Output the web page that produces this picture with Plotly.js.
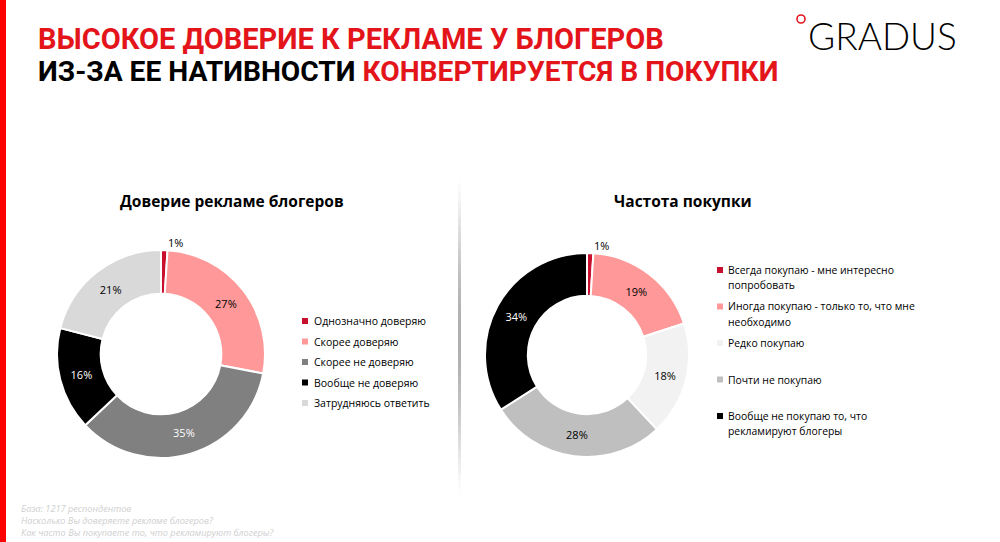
<!DOCTYPE html>
<html><head><meta charset="utf-8">
<script src="https://cdn.plot.ly/plotly-3.0.1.min.js"></script>
<style>body{margin:0;background:#fff}#c{width:1000px;height:542px}</style>
</head><body><div id="c"></div>
<script>
// ---- data ----
const trustLabels = ['Однозначно доверяю','Скорее доверяю','Скорее не доверяю','Вообще не доверяю','Затрудняюсь ответить'];
const trustValues = [1, 27, 35, 16, 21];
const trustColors = ['#c8102e','#ff9999','#808080','#000000','#d9d9d9'];
const trustTextColors = ['#000','#000','#fff','#fff','#000'];

const buyLabels = ['Всегда покупаю - мне интересно<br>попробовать','Иногда покупаю - только то, что мне<br>необходимо','Редко покупаю','Почти не покупаю','Вообще не покупаю то, что<br>рекламируют блогеры'];
const buyValues = [1, 19, 18, 28, 34];
const buyColors = ['#c8102e','#ff9999','#f2f2f2','#bfbfbf','#000000'];
const buyTextColors = ['#000','#000','#000','#000','#fff'];

const titleLine1 = 'ВЫСОКОЕ ДОВЕРИЕ К РЕКЛАМЕ У БЛОГЕРОВ';
const titleLine2a = 'ИЗ-ЗА ЕЕ НАТИВНОСТИ ';
const titleLine2b = 'КОНВЕРТИРУЕТСЯ В ПОКУПКИ';
const chart1Title = 'Доверие рекламе блогеров';
const chart2Title = 'Частота покупки';
const footnotes = ['База: 1217 респондентов','Насколько Вы доверяете рекламе блогеров?','Как часто Вы покупаете то, что рекламируют блогеры?'];

// ---- helpers ----
const W = 1000, H = 542;
const px = x => x / W;
const py = y => 1 - y / H;
const RED = '#e3151b';
const labelFont = 'Open Sans, Noto Sans, sans-serif';
const titleFont = 'Roboto, sans-serif';

function pieTrace(labels, values, colors, textColors, dom) {
  return {
    type: 'pie', labels: labels, values: values, sort: false, direction: 'clockwise', rotation: 0,
    hole: 0.58, domain: dom,
    marker: {colors: colors, line: {color: '#ffffff', width: 2}},
    texttemplate: '%{percent:.0%}',
    textinfo: 'percent',
    textposition: values.map((v, i) => i === 0 ? 'outside' : 'inside'),
    insidetextorientation: 'horizontal',
    textfont: {family: labelFont, size: 11, color: textColors},
    outsidetextfont: {family: labelFont, size: 11, color: '#000'},
    showlegend: false, hoverinfo: 'label+percent'
  };
}

const data = [
  pieTrace(trustLabels, trustValues, trustColors, trustTextColors, {x: [px(57), px(265)], y: [py(458), py(250)]}),
  pieTrace(buyLabels, buyValues, buyColors, buyTextColors, {x: [px(485), px(689)], y: [py(457), py(253)]})
];

const annotations = [];
const shapes = [];

// title lines
annotations.push({xref:'paper', yref:'paper', x: px(36), y: py(39), xanchor:'left', yanchor:'middle', showarrow:false,
  text: titleLine1, font:{family: titleFont, size:29, weight:700, color: RED}});
annotations.push({xref:'paper', yref:'paper', x: px(36), y: py(72), xanchor:'left', yanchor:'middle', showarrow:false,
  text: titleLine2a + '<span style="color:' + RED + '">' + titleLine2b + '</span>',
  font:{family: titleFont, size:28.2, weight:700, color:'#000'}});

// logo
annotations.push({xref:'paper', yref:'paper', x: px(806), y: py(36), xanchor:'left', yanchor:'middle', showarrow:false,
  text: 'GRADUS', font:{family:'Lato, sans-serif', size:37, weight:300, color:'#000'}});
shapes.push({type:'circle', xref:'paper', yref:'paper', x0: px(797), x1: px(805), y0: py(23), y1: py(15), line:{color: RED, width:1.6}});

// left red bar
shapes.push({type:'rect', xref:'paper', yref:'paper', x0:0, x1: px(6), y0:0, y1:1, fillcolor:'#ff0000', line:{width:0}});

// divider (vertical gradient approximated by stacked rects)
const nSeg = 40;
const segH = (497 - 177) / nSeg;
for (let i = 0; i < nSeg; i++) {
  const t = (i + 0.5) / nSeg;
  const a = 0.7 * Math.pow(Math.sin(Math.PI * t), 1.3);
  shapes.push({type:'rect', xref:'paper', yref:'paper', x0: px(458), x1: px(461), y0: py(177 + (i+1)*segH), y1: py(177 + i*segH),
    fillcolor:'rgba(140,140,140,' + a.toFixed(3) + ')', line:{width:0}});
}

// chart titles
annotations.push({xref:'paper', yref:'paper', x: px(232), y: py(201), xanchor:'center', yanchor:'middle', showarrow:false,
  text: '<b>' + chart1Title + '</b>', font:{family: labelFont, size:15.5, color:'#000'}});
annotations.push({xref:'paper', yref:'paper', x: px(683), y: py(201), xanchor:'center', yanchor:'middle', showarrow:false,
  text: '<b>' + chart2Title + '</b>', font:{family: labelFont, size:15.5, color:'#000'}});

// legends (each text line placed separately so the line spacing can match)
function legend(labels, colors, mx, tx, y0, step, fs, lineH) {
  labels.forEach((lab, i) => {
    const yc = y0 + i * step;
    shapes.push({type:'rect', xref:'paper', yref:'paper', x0: px(mx - 3), x1: px(mx + 3), y0: py(yc + 3), y1: py(yc - 3),
      fillcolor: colors[i], line:{width:0}});
    lab.split('<br>').forEach((line, j) => {
      annotations.push({xref:'paper', yref:'paper', x: px(tx), y: py(yc + j * lineH), xanchor:'left', yanchor:'middle', showarrow:false,
        align:'left', text: line, font:{family: labelFont, size: fs, color:'#000'}});
    });
  });
}
legend(trustLabels, trustColors, 305, 312, 321, 20.5, 10.5, 15);
legend(buyLabels, buyColors, 720, 726, 270, 36.5, 10.4, 15);

// footnotes
footnotes.forEach((f, i) => {
  annotations.push({xref:'paper', yref:'paper', x: px(19), y: py(508 + i * 12.3), xanchor:'left', yanchor:'middle', showarrow:false,
    text: '<i>' + f + '</i>', font:{family: labelFont, size:9.2, color:'#cfcfcf'}});
});

const layout = {
  width: W, height: H, margin: {l:0, r:0, t:0, b:0},
  paper_bgcolor:'#fff', plot_bgcolor:'#fff',
  annotations: annotations, shapes: shapes, showlegend:false
};
Plotly.newPlot('c', data, layout, {displayModeBar:false, staticPlot:true});
</script></body></html>
